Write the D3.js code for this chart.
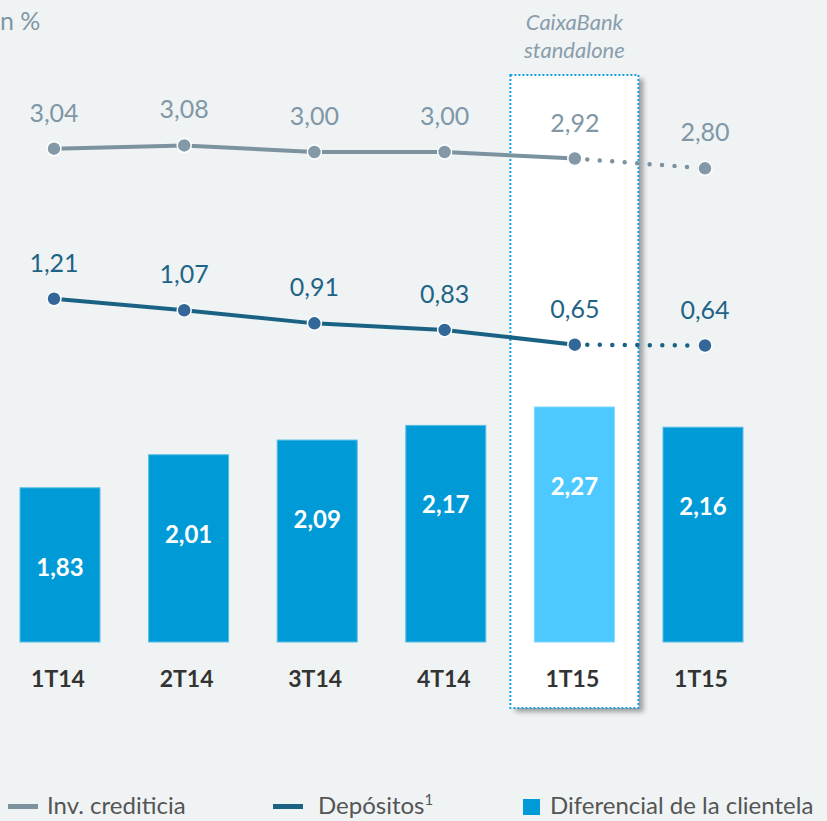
<!DOCTYPE html>
<html>
<head>
<meta charset="utf-8">
<script src="https://d3js.org/d3.v7.min.js"></script>
<style>
  body { margin: 0; background: #eff3f4; overflow: hidden; }
  svg { display: block; font-family: Lato, "Open Sans", sans-serif; }
</style>
</head>
<body>
<svg id="chart" width="827" height="821"></svg>
<script>
// data
var quarters = ["1T14", "2T14", "3T14", "4T14", "1T15", "1T15"]
var invCrediticia = [3.04, 3.08, 3.00, 3.00, 2.92, 2.80]
var depositos = [1.21, 1.07, 0.91, 0.83, 0.65, 0.64]
var diferencial = [1.83, 2.01, 2.09, 2.17, 2.27, 2.16]
var highlightIndex = 4

var fmt = function (v) { return v.toFixed(2).replace(".", ",") }

var svg = d3.select("#chart")
var idx = d3.range(quarters.length)

var xBar = d3.scaleBand().domain(idx).range([20, 743]).paddingInner(0.378).paddingOuter(0)
var xDot = d3.scalePoint().domain(idx).range([54, 705])
var yBar = d3.scaleLinear().domain([0.99, 2.27]).range([642, 407])
var yLine = d3.scaleLinear().domain([0, 3.08]).range([398, 145.4])

// shadow for the highlighted column
var defs = svg.append("defs")
var f = defs.append("filter").attr("id", "shadow").attr("x", "-10%").attr("y", "-5%").attr("width", "130%").attr("height", "115%")
f.append("feDropShadow").attr("dx", 5).attr("dy", 4).attr("stdDeviation", 2.5).attr("flood-color", "#000").attr("flood-opacity", 0.35)

svg.append("text").attr("x", 0).attr("y", 30).attr("fill", "#7f97a6").attr("font-size", 25).text("n %")

// highlight box
var bx = xBar(highlightIndex) + xBar.bandwidth() / 2
svg.append("rect")
    .attr("x", bx - 64).attr("y", 75).attr("width", 128).attr("height", 633)
    .attr("fill", "#fff").attr("filter", "url(#shadow)")
svg.append("rect")
    .attr("x", bx - 64).attr("y", 75).attr("width", 128).attr("height", 633)
    .attr("fill", "none").attr("stroke", "#19a0e0").attr("stroke-width", 2).attr("stroke-dasharray", "2,2")
svg.append("text").attr("x", bx).attr("y", 30).attr("text-anchor", "middle")
    .attr("font-style", "italic").attr("font-size", 22).attr("fill", "#8a9dab").text("CaixaBank")
svg.append("text").attr("x", bx).attr("y", 58).attr("text-anchor", "middle")
    .attr("font-style", "italic").attr("font-size", 22).attr("fill", "#8a9dab").text("standalone")

// bars
svg.append("g").selectAll("rect").data(diferencial).join("rect")
    .attr("x", function (d, i) { return xBar(i) })
    .attr("y", function (d) { return yBar(d) })
    .attr("width", xBar.bandwidth())
    .attr("height", function (d) { return yBar(0.99) - yBar(d) })
    .attr("fill", function (d, i) { return i == highlightIndex ? "#4dc9ff" : "#009bd7" })
    .attr("stroke", function (d, i) { return i == highlightIndex ? "#7fd8ff" : "#5cbde3" })
    .attr("stroke-width", 1)

svg.append("g").selectAll("text").data(diferencial).join("text")
    .attr("x", function (d, i) { return xBar(i) + xBar.bandwidth() / 2 })
    .attr("y", function (d) { return yBar(d) + 88 })
    .attr("text-anchor", "middle").attr("font-weight", "bold").attr("font-size", 24)
    .attr("fill", "#fff")
    .text(fmt)

// category labels
svg.append("g").selectAll("text").data(quarters).join("text")
    .attr("x", function (d, i) { return xBar(i) + xBar.bandwidth() / 2 - 2 })
    .attr("y", 687)
    .attr("text-anchor", "middle").attr("font-weight", "bold").attr("font-size", 23)
    .attr("fill", "#333")
    .text(function (d) { return d })

function drawSeries(values, lineColor, dotColor, labelColor) {
    var g = svg.append("g")
    var line = d3.line().x(function (d, i) { return xDot(i) }).y(function (d) { return yLine(d) })
    var n = values.length
    g.append("path").datum(values.slice(0, n - 1))
        .attr("d", line).attr("fill", "none").attr("stroke", lineColor).attr("stroke-width", 4)
    g.append("path").datum(values.slice(n - 2))
        .attr("d", d3.line().x(function (d, i) { return xDot(n - 2 + i) }).y(function (d) { return yLine(d) }))
        .attr("fill", "none").attr("stroke", lineColor).attr("stroke-width", 4.5)
        .attr("stroke-linecap", "round").attr("stroke-dasharray", "0,12.5")
    g.selectAll("circle").data(values).join("circle")
        .attr("cx", function (d, i) { return xDot(i) })
        .attr("cy", function (d) { return yLine(d) })
        .attr("r", 7).attr("fill", dotColor).attr("stroke", "#fff").attr("stroke-width", 1.5)
    g.selectAll("text").data(values).join("text")
        .attr("x", function (d, i) { return xDot(i) })
        .attr("y", function (d) { return yLine(d) - 27 })
        .attr("text-anchor", "middle").attr("font-size", 25).attr("fill", labelColor)
        .text(fmt)
}
drawSeries(invCrediticia, "#7b929f", "#8399a8", "#7f97a6")
drawSeries(depositos, "#1a6283", "#336699", "#1f6386")

// legend
var lg = svg.append("g").attr("font-size", 24).attr("fill", "#555")
lg.append("rect").attr("x", 8).attr("y", 804).attr("width", 30).attr("height", 5).attr("fill", "#7b929f")
lg.append("text").attr("x", 47).attr("y", 814).attr("fill", "#555").text("Inv. crediticia")
lg.append("rect").attr("x", 273).attr("y", 804).attr("width", 30).attr("height", 5).attr("fill", "#1a6283")
var dt = lg.append("text").attr("x", 318).attr("y", 814).attr("fill", "#555")
dt.append("tspan").text("Depósitos")
dt.append("tspan").attr("font-size", 15).attr("dy", -9).text("1")
lg.append("rect").attr("x", 523).attr("y", 799).attr("width", 17).attr("height", 16).attr("fill", "#009bd7")
lg.append("text").attr("x", 550).attr("y", 814).attr("fill", "#555").text("Diferencial de la clientela")
</script>
</body>
</html>
